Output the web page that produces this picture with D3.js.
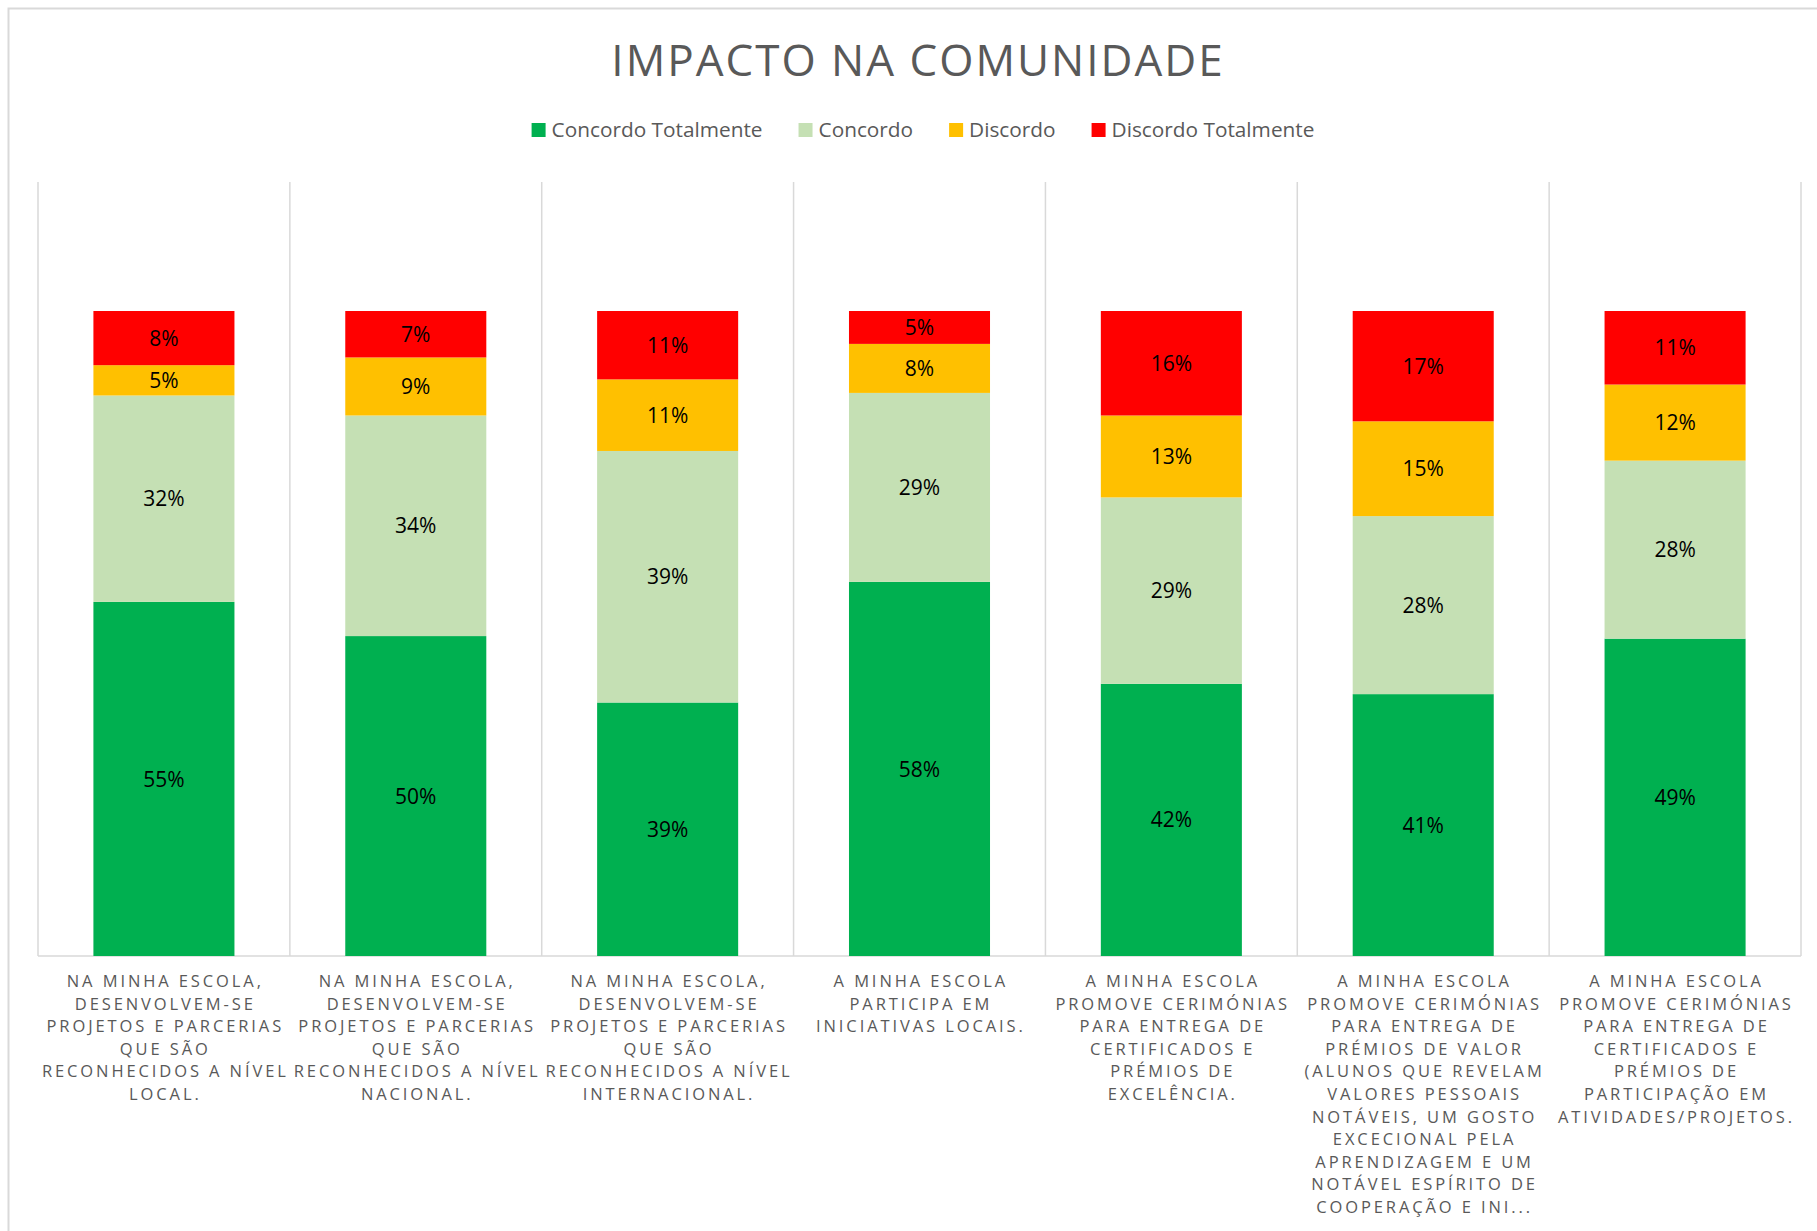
<!DOCTYPE html>
<html>
<head>
<meta charset="utf-8">
<script src="https://cdn.jsdelivr.net/npm/d3@7"></script>
<style>
  body { margin: 0; background: #fff; }
  text { font-family: "Open Sans", "Noto Sans", sans-serif; }
</style>
</head>
<body>
<div id="vis"></div>
<script>
var w = 1817, h = 1231;

//category labels, one entry per line as wrapped in the original
var categories = [
  ["NA MINHA ESCOLA,", "DESENVOLVEM-SE", "PROJETOS E PARCERIAS", "QUE SÃO", "RECONHECIDOS A NÍVEL", "LOCAL."],
  ["NA MINHA ESCOLA,", "DESENVOLVEM-SE", "PROJETOS E PARCERIAS", "QUE SÃO", "RECONHECIDOS A NÍVEL", "NACIONAL."],
  ["NA MINHA ESCOLA,", "DESENVOLVEM-SE", "PROJETOS E PARCERIAS", "QUE SÃO", "RECONHECIDOS A NÍVEL", "INTERNACIONAL."],
  ["A MINHA ESCOLA", "PARTICIPA EM", "INICIATIVAS LOCAIS."],
  ["A MINHA ESCOLA", "PROMOVE CERIMÓNIAS", "PARA ENTREGA DE", "CERTIFICADOS E", "PRÉMIOS DE", "EXCELÊNCIA."],
  ["A MINHA ESCOLA", "PROMOVE CERIMÓNIAS", "PARA ENTREGA DE", "PRÉMIOS DE VALOR", "(ALUNOS QUE REVELAM", "VALORES PESSOAIS", "NOTÁVEIS, UM GOSTO", "EXCECIONAL PELA", "APRENDIZAGEM E UM", "NOTÁVEL ESPÍRITO DE", "COOPERAÇÃO E INI..."],
  ["A MINHA ESCOLA", "PROMOVE CERIMÓNIAS", "PARA ENTREGA DE", "CERTIFICADOS E", "PRÉMIOS DE", "PARTICIPAÇÃO EM", "ATIVIDADES/PROJETOS."]
];

//series values (share of answers per statement)
var seriesNames = ["Concordo Totalmente", "Concordo", "Discordo", "Discordo Totalmente"];
var concordoTotalmente = [0.549, 0.496, 0.393, 0.580, 0.422, 0.406, 0.492];
var concordo = [0.320, 0.342, 0.390, 0.293, 0.289, 0.276, 0.276];
var discordo = [0.047, 0.090, 0.111, 0.076, 0.127, 0.147, 0.118];
var discordoTotalmente = [0.084, 0.072, 0.106, 0.051, 0.162, 0.171, 0.114];

var colors = ["#00B050", "#C5E0B4", "#FFC000", "#FF0000"];

//build rows for the stack
var rows = categories.map(function(c, i){
  return {
    idx: i,
    "Concordo Totalmente": concordoTotalmente[i],
    "Concordo": concordo[i],
    "Discordo": discordo[i],
    "Discordo Totalmente": discordoTotalmente[i]
  };
});

var series = d3.stack().keys(seriesNames)(rows);

var svg = d3.select("#vis").append("svg")
  .attr("width", w)
  .attr("height", h);

svg.append("rect")
  .attr("width", w).attr("height", h)
  .attr("fill", "#fff");

//chart area border (cut off at right and bottom, as in the original)
svg.append("path")
  .attr("d", "M8.5," + h + "V8.5H" + w)
  .attr("fill", "none")
  .attr("stroke", "#d9d9d9")
  .attr("stroke-width", 2);

//plot area edges
var plotLeft = 38, plotRight = 1801, plotTop = 182, plotBottom = 956;

var x = d3.scaleBand()
  .domain(d3.range(categories.length))
  .range([plotLeft, plotRight])
  .paddingInner(0.44)
  .paddingOuter(0.22);

var y = d3.scaleLinear()
  .domain([0, 1.2])
  .range([plotBottom, plotTop]);

//vertical gridlines between categories
var gridX = d3.range(categories.length + 1).map(function(i){
  return plotLeft + i * x.step();
});

svg.append("g")
  .selectAll("line")
  .data(gridX)
  .enter()
  .append("line")
  .attr("x1", function(d){ return d; })
  .attr("x2", function(d){ return d; })
  .attr("y1", plotTop)
  .attr("y2", plotBottom)
  .attr("stroke", "#d9d9d9")
  .attr("stroke-width", 1.5);

//axis baseline
svg.append("line")
  .attr("x1", plotLeft).attr("x2", plotRight)
  .attr("y1", plotBottom).attr("y2", plotBottom)
  .attr("stroke", "#d9d9d9")
  .attr("stroke-width", 1.5);

//stacked bars
var layers = svg.selectAll("g.layer")
  .data(series)
  .enter()
  .append("g")
  .attr("class", "layer")
  .attr("fill", function(d, i){ return colors[i]; });

layers.selectAll("rect")
  .data(function(d){ return d; })
  .enter()
  .append("rect")
  .attr("x", function(d){ return x(d.data.idx); })
  .attr("y", function(d){ return y(d[1]); })
  .attr("width", x.bandwidth())
  .attr("height", function(d){ return y(d[0]) - y(d[1]); });

//data labels in the middle of each segment
var pct = d3.format(".0%");
layers.selectAll("text")
  .data(function(d){ return d; })
  .enter()
  .append("text")
  .attr("x", function(d){ return x(d.data.idx) + x.bandwidth() / 2; })
  .attr("y", function(d){ return (y(d[0]) + y(d[1])) / 2; })
  .attr("dy", "0.36em")
  .attr("text-anchor", "middle")
  .attr("font-size", 21)
  .attr("fill", "#000")
  .text(function(d){ return pct(d[1] - d[0]); });

//category labels
var catG = svg.append("g")
  .selectAll("text")
  .data(categories)
  .enter()
  .append("text")
  .attr("text-anchor", "middle")
  .attr("font-size", 16.5)
  .attr("letter-spacing", 2.9)
  .attr("fill", "#595959");

catG.selectAll("tspan")
  .data(function(d, i){ return d.map(function(l){ return {line: l, i: i}; }); })
  .enter()
  .append("tspan")
  .attr("x", function(d){ return x(d.i) + x.bandwidth() / 2 + 1.4; })
  .attr("y", function(d, j){ return 987 + j * 22.6; })
  .text(function(d){ return d.line; });

//title
svg.append("text")
  .attr("x", 918)
  .attr("y", 76)
  .attr("text-anchor", "middle")
  .attr("font-size", 44)
  .attr("letter-spacing", 2)
  .attr("fill", "#595959")
  .text("IMPACTO NA COMUNIDADE");

//legend
var legend = svg.append("g");
var items = legend.selectAll("g")
  .data(seriesNames)
  .enter()
  .append("g");

items.append("rect")
  .attr("width", 14)
  .attr("height", 14)
  .attr("y", 123)
  .attr("fill", function(d, i){ return colors[i]; });

items.append("text")
  .attr("x", 20)
  .attr("y", 137)
  .attr("font-size", 20.8)
  .attr("fill", "#595959")
  .text(function(d){ return d; });

var widths = [];
items.each(function(d, i){
  var tw = d3.select(this).select("text").node().getComputedTextLength();
  widths.push(20 + tw);
});
var total = d3.sum(widths) + 36 * (widths.length - 1);
var offset = 923 - total / 2;
items.attr("transform", function(d, i){
  var pos = offset;
  offset += widths[i] + 36;
  return "translate(" + pos + ",0)";
});
</script>
</body>
</html>
